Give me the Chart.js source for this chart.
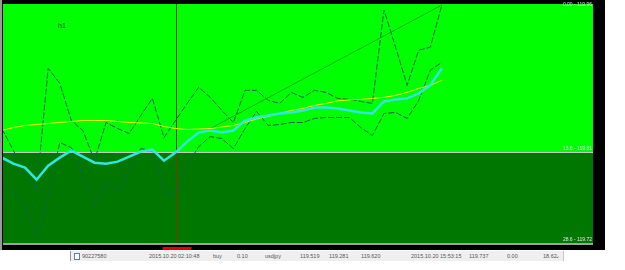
<!DOCTYPE html>
<html>
<head>
<meta charset="utf-8">
<script src="https://cdn.jsdelivr.net/npm/chart.js@4.4.0/dist/chart.umd.min.js"></script>
<style>
  body { margin: 0; background: #fff; }
  #wrap { position: relative; width: 625px; height: 270px; }
  #bar { position: absolute; left: 70px; top: 251px; width: 492px; height: 10px;
         background: #efefef; border-left: 1px solid #9a9a9a; border-right: 1px solid #c8c8c8;
         font: 5.5px "Liberation Sans", Arial, sans-serif; color: #555; }
  #bar span { position: absolute; top: 2px; white-space: nowrap; }
  #bar .ico { top: 2px; left: 3px; width: 4px; height: 5px; border: 1px solid #5b7fb0; background: #fff; }
</style>
</head>
<body>
<div id="wrap">
  <canvas id="mtChart" width="625" height="270"></canvas>
  <div id="bar">
    <span class="ico"></span>
    <span style="left:11px">90227580</span>
    <span style="left:78px">2015.10.20 02:10:48</span>
    <span style="left:142px">buy</span>
    <span style="left:166px">0.10</span>
    <span style="left:194px">usdjpy</span>
    <span style="left:229px">119.519</span>
    <span style="left:258px">119.281</span>
    <span style="left:290px">119.620</span>
    <span style="left:340px">2015.10.20 15:53:15</span>
    <span style="left:398px">119.737</span>
    <span style="left:436px">0.00</span>
    <span style="left:472px">18.62</span>
    <span style="left:484px">&#8964;</span>
  </div>
</div>
<script>
// bar series (one value per bar)
const mainLine = [119.807, 119.801, 119.797, 119.785, 119.799, 119.807, 119.814, 119.808, 119.802, 119.801,
  119.803, 119.808, 119.813, 119.815, 119.804, 119.812, 119.823, 119.832, 119.834, 119.832,
  119.834, 119.844, 119.847, 119.849, 119.851, 119.852, 119.854, 119.857, 119.857, 119.856,
  119.854, 119.852, 119.851, 119.863, 119.865, 119.866, 119.871, 119.879, 119.896];
const maLine = [119.834, 119.837, 119.839, 119.840, 119.841, 119.842, 119.843, 119.844, 119.844, 119.844,
  119.843, 119.842, 119.8415, 119.841, 119.838, 119.836, 119.835, 119.8355, 119.836, 119.8375,
  119.839, 119.842, 119.8455, 119.848, 119.851, 119.854, 119.856, 119.859, 119.861, 119.8635,
  119.8645, 119.865, 119.866, 119.867, 119.869, 119.872, 119.876, 119.879, 119.884];
const upperBand = [119.836, 119.814, 119.792, 119.774, 119.896, 119.881, 119.844, 119.834, 119.804, 119.842,
  119.836, 119.831, 119.849, 119.866, 119.827, 119.844, 119.861, 119.877, 119.867, 119.854,
  119.842, 119.874, 119.874, 119.864, 119.861, 119.872, 119.867, 119.874, 119.872, 119.866,
  119.865, 119.863, 119.861, 119.954, 119.917, 119.879, 119.914, 119.917, 119.959];
const lowerBand = [119.784, 119.774, 119.759, 119.727, 119.769, 119.822, 119.817, 119.789, 119.759, 119.782,
  119.774, 119.794, 119.816, 119.814, 119.774, 119.769, 119.799, 119.818, 119.828, 119.826,
  119.816, 119.836, 119.853, 119.839, 119.840, 119.842, 119.842, 119.846, 119.847, 119.847,
  119.847, 119.837, 119.829, 119.851, 119.852, 119.846, 119.864, 119.894, 119.902];
// trend line: [bar, price] at both ends
const trendLine = [[18, 119.836], [38, 119.959]];

const priceMax = 119.960;
const priceMin = 119.721;
const zoneSplit = 119.813;
const markerBar = 15;
const rightLabels = [['0.00 - 119.96', 119.958], ['13.6 - 119.81', 119.815], ['28.6 - 119.72', 119.724]];

const toPoints = arr => arr.map((v, i) => ({ x: i, y: v }));

const mtBackground = {
  id: 'mtBackground',
  beforeDraw(chart) {
    const ctx = chart.ctx, a = chart.chartArea, y = chart.scales.y;
    ctx.save();
    ctx.fillStyle = '#000';
    ctx.fillRect(0, 0, 605, 250);
    ctx.fillStyle = '#9a9a9a';
    ctx.fillRect(0, 0, 2, 250);
    const split = Math.round(y.getPixelForValue(zoneSplit));
    ctx.fillStyle = '#00ff00';
    ctx.fillRect(a.left, a.top, a.right - a.left, split - a.top);
    ctx.fillStyle = '#007800';
    ctx.fillRect(a.left, split, a.right - a.left, a.bottom - split);
    ctx.fillStyle = '#c8c8c8';
    ctx.fillRect(a.left, split, a.right - a.left, 1);
    ctx.fillStyle = '#a0a0a0';
    ctx.fillRect(a.left, a.bottom - 1, a.right - a.left, 2);
    ctx.restore();
  },
  beforeDatasetsDraw(chart) {
    const ctx = chart.ctx, a = chart.chartArea;
    const mx = Math.round(chart.scales.x.getPixelForValue(markerBar)) + 0.5;
    ctx.save();
    ctx.strokeStyle = '#8a3000';
    ctx.lineWidth = 1;
    ctx.beginPath();
    ctx.moveTo(mx, a.top);
    ctx.lineTo(mx, a.bottom - 1);
    ctx.stroke();
    ctx.fillStyle = '#e00000';
    ctx.fillRect(mx - 14, a.bottom + 3, 29, 3);
    ctx.restore();
  },
  afterDraw(chart) {
    const ctx = chart.ctx, a = chart.chartArea, y = chart.scales.y;
    ctx.save();
    ctx.font = '7px "Liberation Sans", Arial, sans-serif';
    ctx.fillStyle = '#14401a';
    ctx.fillText('h1', 58, 28);
    ctx.font = '5px "Liberation Sans", Arial, sans-serif';
    ctx.fillStyle = '#e8e8e8';
    ctx.textAlign = 'right';
    rightLabels.forEach(([t, p]) => ctx.fillText(t, a.right - 1, y.getPixelForValue(p)));
    ctx.restore();
  }
};

const dashed = { borderColor: '#10604e', borderWidth: 1, borderDash: [6, 2], pointRadius: 0, tension: 0 };

new Chart(document.getElementById('mtChart'), {
  type: 'line',
  data: {
    datasets: [
      { label: 'main', data: toPoints(mainLine), borderColor: '#30e6e0', borderWidth: 2.5, pointRadius: 0, tension: 0 },
      { label: 'ma', data: toPoints(maLine), borderColor: '#f2f200', borderWidth: 1, pointRadius: 0, tension: 0 },
      { label: 'trend', data: trendLine.map(([x, v]) => ({ x, y: v })), borderColor: '#00b000', borderWidth: 1, pointRadius: 0 },
      Object.assign({ label: 'upper', data: toPoints(upperBand) }, dashed),
      Object.assign({ label: 'lower', data: toPoints(lowerBand) }, dashed)
    ]
  },
  options: {
    responsive: false,
    animation: false,
    layout: { padding: { left: 3, top: 4, right: 32, bottom: 26 } },
    plugins: { legend: { display: false }, tooltip: { enabled: false } },
    scales: {
      x: { type: 'linear', min: 0.1, max: 51.05, display: false },
      y: { min: priceMin, max: priceMax, display: false }
    }
  },
  plugins: [mtBackground]
});
</script>
</body>
</html>
